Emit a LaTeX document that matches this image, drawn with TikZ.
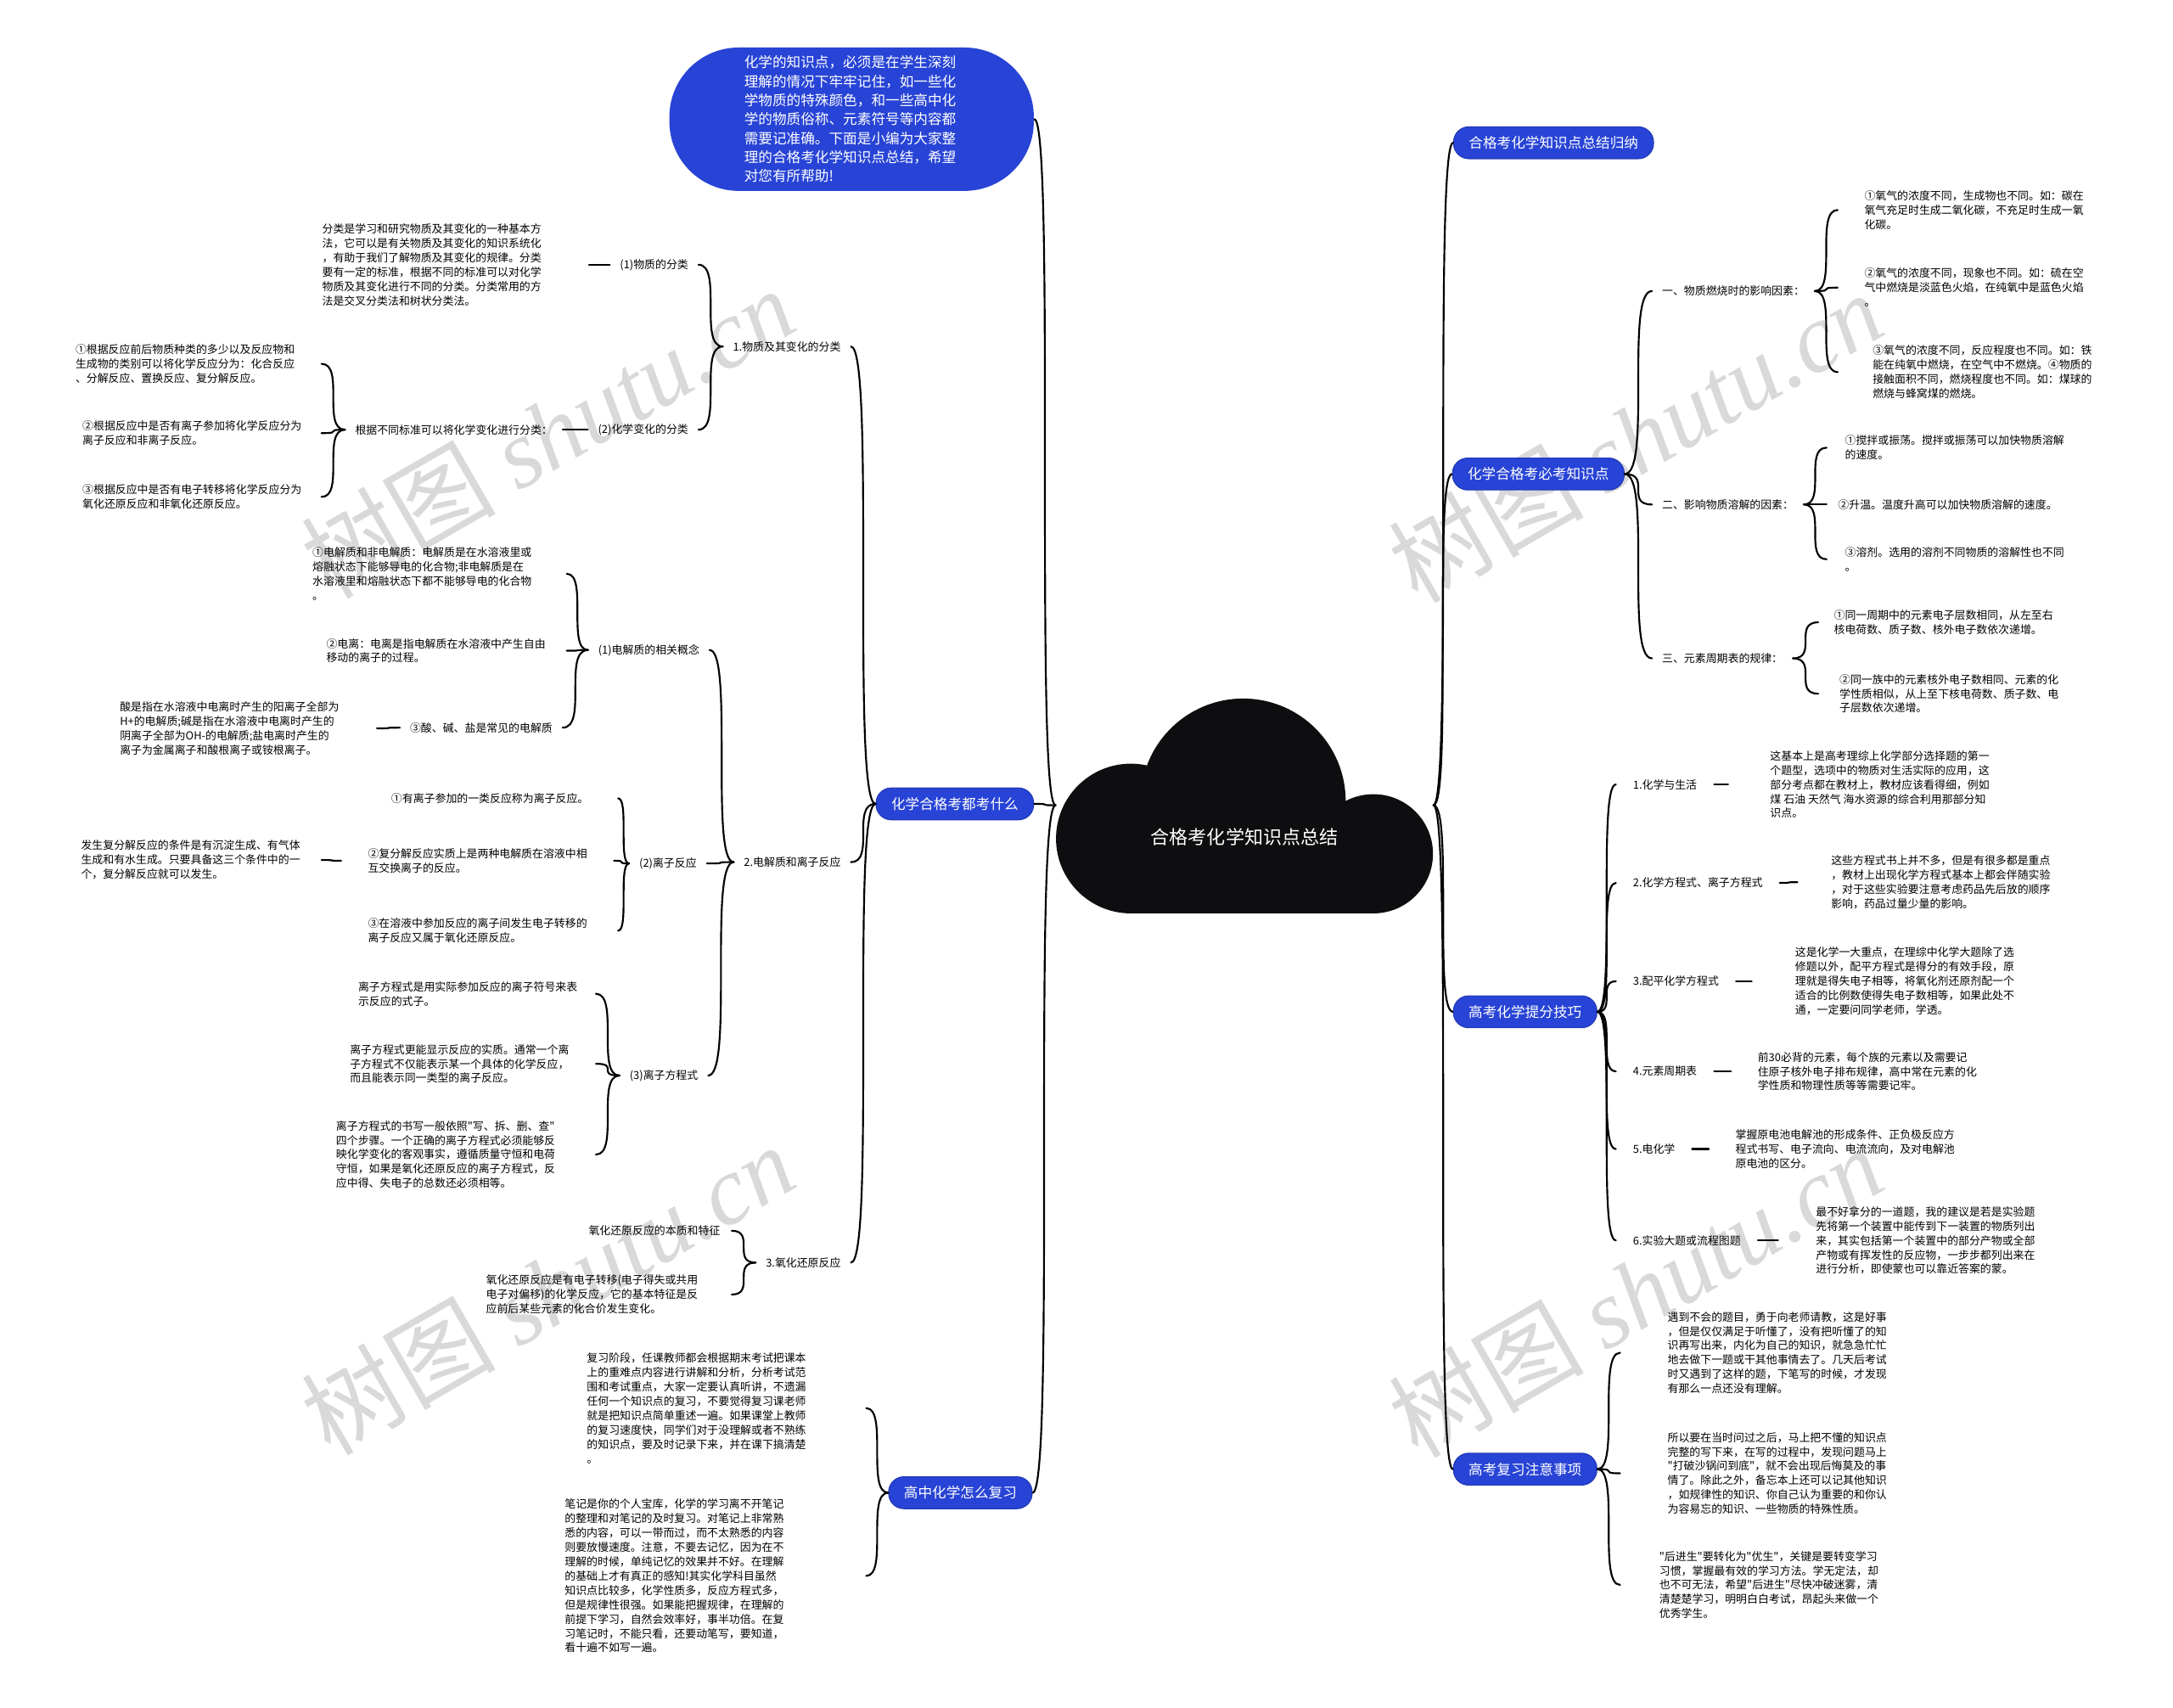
\documentclass[tikz,border=0pt]{standalone}
\usepackage{fontspec}
\setmainfont{Noto Sans CJK SC}[Ligatures=TeXOff]
\newfontfamily\wmserif{Liberation Serif}
\definecolor{topicblue}{RGB}{40,68,214}
\definecolor{cloudblack}{RGB}{14,14,16}
\newcommand\leaffont{\fontsize{4.5pt}{5.9pt}\selectfont}
\newcommand\pillfont{\fontsize{5.8pt}{7.8pt}\selectfont}
\newcommand\rootfont{\fontsize{7.7pt}{9pt}\selectfont}
\newcommand\wmfont{\fontsize{40pt}{40pt}\selectfont}
\tikzset{
  topic/.style={fill=topicblue,draw=topicblue!85!black,line width=0.4pt,text=white,font=\pillfont,
    rounded corners=0.22cm,minimum height=0.46cm,inner xsep=0.22cm,inner ysep=0pt},
  intro/.style={fill=topicblue,text=white,font=\pillfont,align=left,text width=3.1cm,
    rounded corners=1cm,minimum height=2.04cm,inner xsep=1.08cm},
  hub/.style={text=white,font=\rootfont,minimum width=5.44cm,minimum height=3.12cm,
    text height=1.12cm,text depth=0pt,inner sep=0pt},
  lbl/.style={font=\leaffont,inner xsep=0.14cm,inner ysep=1pt},
  leaf/.style={font=\leaffont,align=left,inner ysep=1pt},
  conn/.style={line width=0.75pt,line cap=round,
    to path={.. controls (\tikztotarget |- \tikztostart) and (\tikztostart |- \tikztotarget) .. (\tikztotarget)}},
  wmark/.style={text=black!15,rotate=30,font=\wmfont},
}
\begin{document}
\begin{tikzpicture}[x=0.02cm,y=-0.02cm]
  \fill[white] (0,0) rectangle (1568,1232);
  \useasboundingbox (0,0) rectangle (1568,1232);
  % watermarks
  \node[wmark] (wm1) at (395,312) {树图 {\wmserif\itshape shutu.cn}};
  \node[wmark] (wm2) at (1180,315) {树图 {\wmserif\itshape shutu.cn}};
  \node[wmark] (wm3) at (395,930) {树图 {\wmserif\itshape shutu.cn}};
  \node[wmark] (wm4) at (1180,932) {树图 {\wmserif\itshape shutu.cn}};
  % the cloud
  \fill[cloudblack] (816,605) circle[radius=54] (897,578) circle[radius=74] (991,616) circle[radius=43];
  \fill[cloudblack] (816,600) rectangle (991,659);
  \node[hub] (root) at (898,581) {合格考化学知识点总结};
  % main topics
  \node[intro] (intro) at (614.5,86) {化学的知识点，必须是在学生深刻\\理解的情况下牢牢记住，如一些化\\学物质的特殊颜色，和一些高中化\\学的物质俗称、元素符号等内容都\\需要记准确。下面是小编为大家整\\理的合格考化学知识点总结，希望\\对您有所帮助!};
  \node[topic] (exam) at (689,580) {化学合格考都考什么};
  \node[topic] (review) at (693,1077) {高中化学怎么复习};
  \node[topic] (sum) at (1121,103) {合格考化学知识点总结归纳};
  \node[topic] (must) at (1110,342) {化学合格考必考知识点};
  \node[topic] (tips) at (1100.5,730) {高考化学提分技巧};
  \node[topic] (note) at (1100.5,1060) {高考复习注意事项};

  % left: 化学合格考都考什么
  \node[lbl,anchor=east] (e1) at (614,250) {1.物质及其变化的分类};
  \node[lbl,anchor=east] (e2) at (614,622) {2.电解质和离子反应};
  \node[lbl,anchor=east] (e3) at (614,911) {3.氧化还原反应};
  \node[lbl,anchor=east] (e11) at (504,191) {(1)物质的分类};
  \node[lbl,anchor=east] (e12) at (504,310) {(2)化学变化的分类};
  \node[leaf,anchor=east,inner xsep=0.68cm] (e11a) at (425,191) {分类是学习和研究物质及其变化的一种基本方\\法，它可以是有关物质及其变化的知识系统化\\，有助于我们了解物质及其变化的规律。分类\\要有一定的标准，根据不同的标准可以对化学\\物质及其变化进行不同的分类。分类常用的方\\法是交叉分类法和树状分类法。};
  \node[lbl,anchor=east] (e12a) at (406,310) {根据不同标准可以将化学变化进行分类：};
  \node[leaf,anchor=east,inner xsep=0.38cm] (e12a1) at (232,262.5) {①根据反应前后物质种类的多少以及反应物和\\生成物的类别可以将化学反应分为：化合反应\\、分解反应、置换反应、复分解反应。};
  \node[leaf,anchor=east,inner xsep=0.28cm] (e12a2) at (232,312.5) {②根据反应中是否有离子参加将化学反应分为\\离子反应和非离子反应。};
  \node[leaf,anchor=east,inner xsep=0.28cm] (e12a3) at (232,358.5) {③根据反应中是否有电子转移将化学反应分为\\氧化还原反应和非氧化还原反应。};

  \node[lbl,anchor=east] (e21) at (512,469) {(1)电解质的相关概念};
  \node[lbl,anchor=east] (e22) at (510,623) {(2)离子反应};
  \node[lbl,anchor=east] (e23) at (511,776) {(3)离子方程式};
  \node[leaf,anchor=east,inner xsep=0.5cm] (e21a) at (409,414) {①电解质和非电解质：电解质是在水溶液里或\\熔融状态下能够导电的化合物;非电解质是在\\水溶液里和熔融状态下都不能够导电的化合物\\。};
  \node[leaf,anchor=east,inner xsep=0.3cm] (e21b) at (409,469.5) {②电离：电离是指电解质在水溶液中产生自由\\移动的离子的过程。};
  \node[lbl,anchor=east] (e21c) at (406,525) {③酸、碱、盐是常见的电解质};
  \node[leaf,anchor=east,inner xsep=0.54cm] (e21c1) at (272,525.5) {酸是指在水溶液中电离时产生的阳离子全部为\\H+的电解质;碱是指在水溶液中电离时产生的\\阴离子全部为OH-的电解质;盐电离时产生的\\离子为金属离子和酸根离子或铵根离子。};
  \node[leaf,anchor=east,inner xsep=0.42cm] (e22a) at (446,576) {①有离子参加的一类反应称为离子反应。};
  \node[leaf,anchor=east,inner xsep=0.38cm] (e22b) at (443,621) {②复分解反应实质上是两种电解质在溶液中相\\互交换离子的反应。};
  \node[leaf,anchor=east,inner xsep=0.3cm] (e22b1) at (232,620.5) {发生复分解反应的条件是有沉淀生成、有气体\\生成和有水生成。只要具备这三个条件中的一\\个，复分解反应就可以发生。};
  \node[leaf,anchor=east,inner xsep=0.44cm] (e22c) at (446,671.5) {③在溶液中参加反应的离子间发生电子转移的\\离子反应又属于氧化还原反应。};
  \node[leaf,anchor=east,inner xsep=0.26cm] (e23a) at (430,717) {离子方程式是用实际参加反应的离子符号来表\\示反应的式子。};
  \node[leaf,anchor=east,inner xsep=0.38cm] (e23b) at (430,767.5) {离子方程式更能显示反应的实质。通常一个离\\子方程式不仅能表示某一个具体的化学反应，\\而且能表示同一类型的离子反应。};
  \node[leaf,anchor=east,inner xsep=0.58cm] (e23c) at (430,833) {离子方程式的书写一般依照"写、拆、删、查"\\四个步骤。一个正确的离子方程式必须能够反\\映化学变化的客观事实，遵循质量守恒和电荷\\守恒，如果是氧化还原反应的离子方程式，反\\应中得、失电子的总数还必须相等。};
  \node[leaf,anchor=east,inner xsep=0.16cm] (e31) at (528,888) {氧化还原反应的本质和特征};
  \node[leaf,anchor=east,inner xsep=0.48cm] (e32) at (528,934) {氧化还原反应是有电子转移(电子得失或共用\\电子对偏移)的化学反应，它的基本特征是反\\应前后某些元素的化合价发生变化。};

  % left: 高中化学怎么复习
  \node[leaf,anchor=east,inner xsep=0.86cm] (r1) at (625,1016) {复习阶段，任课教师都会根据期末考试把课本\\上的重难点内容进行讲解和分析，分析考试范\\围和考试重点，大家一定要认真听讲，不遗漏\\任何一个知识点的复习，不要觉得复习课老师\\就是把知识点简单重述一遍。如果课堂上教师\\的复习速度快，同学们对于没理解或者不熟练\\的知识点，要及时记录下来，并在课下搞清楚\\。};
  \node[leaf,anchor=east,inner xsep=1.18cm] (r2) at (625,1137) {笔记是你的个人宝库，化学的学习离不开笔记\\的整理和对笔记的及时复习。对笔记上非常熟\\悉的内容，可以一带而过，而不太熟悉的内容\\则要放慢速度。注意，不要去记忆，因为在不\\理解的时候，单纯记忆的效果并不好。在理解\\的基础上才有真正的感知!其实化学科目虽然\\知识点比较多，化学性质多，反应方程式多，\\但是规律性很强。如果能把握规律，在理解的\\前提下学习，自然会效率好，事半功倍。在复\\习笔记时，不能只看，还要动笔写，要知道，\\看十遍不如写一遍。};

  % right: 化学合格考必考知识点
  \node[lbl,anchor=west] (m1) at (1192,210) {一、物质燃烧时的影响因素：};
  \node[lbl,anchor=west] (m2) at (1192,364) {二、影响物质溶解的因素：};
  \node[lbl,anchor=west] (m3) at (1192,475) {三、元素周期表的规律：};
  \node[leaf,anchor=west,inner xsep=0.38cm] (m1a) at (1326,151.5) {①氧气的浓度不同，生成物也不同。如：碳在\\氧气充足时生成二氧化碳，不充足时生成一氧\\化碳。};
  \node[leaf,anchor=west,inner xsep=0.38cm] (m1b) at (1326,207.5) {②氧气的浓度不同，现象也不同。如：硫在空\\气中燃烧是淡蓝色火焰，在纯氧中是蓝色火焰\\。};
  \node[leaf,anchor=west,inner xsep=0.5cm] (m1c) at (1326,268.5) {③氧气的浓度不同，反应程度也不同。如：铁\\能在纯氧中燃烧，在空气中不燃烧。④物质的\\接触面积不同，燃烧程度也不同。如：煤球的\\燃烧与蜂窝煤的燃烧。};
  \node[leaf,anchor=west,inner xsep=0.26cm] (m2a) at (1318,323) {①搅拌或振荡。搅拌或振荡可以加快物质溶解\\的速度。};
  \node[leaf,anchor=west,inner xsep=0.16cm] (m2b) at (1318,364) {②升温。温度升高可以加快物质溶解的速度。};
  \node[leaf,anchor=west,inner xsep=0.26cm] (m2c) at (1318,403.5) {③溶剂。选用的溶剂不同物质的溶解性也不同\\。};
  \node[leaf,anchor=west,inner xsep=0.22cm] (m3a) at (1312,449) {①同一周期中的元素电子层数相同，从左至右\\核电荷数、质子数、核外电子数依次递增。};
  \node[leaf,anchor=west,inner xsep=0.3cm] (m3b) at (1312,500.5) {②同一族中的元素核外电子数相同、元素的化\\学性质相似，从上至下核电荷数、质子数、电\\子层数依次递增。};

  % right: 高考化学提分技巧
  \node[lbl,anchor=west,inner xsep=0.24cm] (t1) at (1166,566) {1.化学与生活};
  \node[lbl,anchor=west,inner xsep=0.24cm] (t2) at (1166,637) {2.化学方程式、离子方程式};
  \node[lbl,anchor=west,inner xsep=0.24cm] (t3) at (1166,708) {3.配平化学方程式};
  \node[lbl,anchor=west,inner xsep=0.24cm] (t4) at (1166,773) {4.元素周期表};
  \node[lbl,anchor=west,inner xsep=0.24cm] (t5) at (1166,829) {5.电化学};
  \node[lbl,anchor=west,inner xsep=0.24cm] (t6) at (1166,895) {6.实验大题或流程图题};
  \node[leaf,anchor=west,inner xsep=0.6cm] (t1x) at (1247,566) {这基本上是高考理综上化学部分选择题的第一\\个题型，选项中的物质对生活实际的应用，这\\部分考点都在教材上，教材应该看得细，例如\\煤 石油 天然气 海水资源的综合利用那部分知\\识点。};
  \node[leaf,anchor=west,inner xsep=0.48cm] (t2x) at (1297,636.5) {这些方程式书上并不多，但是有很多都是重点\\，教材上出现化学方程式基本上都会伴随实验\\，对于这些实验要注意考虑药品先后放的顺序\\影响，药品过量少量的影响。};
  \node[leaf,anchor=west,inner xsep=0.62cm] (t3x) at (1264,708) {这是化学一大重点，在理综中化学大题除了选\\修题以外，配平方程式是得分的有效手段，原\\理就是得失电子相等，将氧化剂还原剂配一个\\适合的比例数使得失电子数相等，如果此处不\\通，一定要问同学老师，学透。};
  \node[leaf,anchor=west,inner xsep=0.38cm] (t4x) at (1249,773) {前30必背的元素，每个族的元素以及需要记\\住原子核外电子排布规律，高中常在元素的化\\学性质和物理性质等等需要记牢。};
  \node[leaf,anchor=west,inner xsep=0.38cm] (t5x) at (1233,829) {掌握原电池电解池的形成条件、正负极反应方\\程式书写、电子流向、电流流向，及对电解池\\原电池的区分。};
  \node[leaf,anchor=west,inner xsep=0.54cm] (t6x) at (1283,895) {最不好拿分的一道题，我的建议是若是实验题\\先将第一个装置中能传到下一装置的物质列出\\来，其实包括第一个装置中的部分产物或全部\\产物或有挥发性的反应物，一步步都列出来在\\进行分析，即使蒙也可以靠近答案的蒙。};

  % right: 高考复习注意事项
  \node[leaf,anchor=west,inner xsep=0.68cm] (p1) at (1169,976) {遇到不会的题目，勇于向老师请教，这是好事\\，但是仅仅满足于听懂了，没有把听懂了的知\\识再写出来，内化为自己的知识，就急急忙忙\\地去做下一题或干其他事情去了。几天后考试\\时又遇到了这样的题，下笔写的时候，才发现\\有那么一点还没有理解。};
  \node[leaf,anchor=west,inner xsep=0.68cm] (p2) at (1169,1063) {所以要在当时问过之后，马上把不懂的知识点\\完整的写下来，在写的过程中，发现问题马上\\"打破沙锅问到底"，就不会出现后悔莫及的事\\情了。除此之外，备忘本上还可以记其他知识\\，如规律性的知识、你自己认为重要的和你认\\为容易忘的知识、一些物质的特殊性质。};
  \node[leaf,anchor=west,inner xsep=0.56cm] (p3) at (1169,1143.5) {"后进生"要转化为"优生"，关键是要转变学习\\习惯，掌握最有效的学习方法。学无定法，却\\也不可无法，希望"后进生"尽快冲破迷雾，清\\清楚楚学习，明明白白考试，昂起头来做一个\\优秀学生。};

  % connectors from the centre
  \draw[conn] (root.west) to (intro.east);
  \draw[conn] (root.west) to (exam.east);
  \draw[conn] (root.west) to (review.east);
  \draw[conn] (root.east) to (sum.west);
  \draw[conn] (root.east) to (must.west);
  \draw[conn] (root.east) to (tips.west);
  \draw[conn] (root.east) to (note.west);
  % left branches
  \draw[conn] (exam.west) to (e1.east);
  \draw[conn] (exam.west) to (e2.east);
  \draw[conn] (exam.west) to (e3.east);
  \draw[conn] (e1.west) to (e11.east);
  \draw[conn] (e1.west) to (e12.east);
  \draw[conn] (e11.west) to (e11a.east);
  \draw[conn] (e12.west) to (e12a.east);
  \draw[conn] (e12a.west) to (e12a1.east);
  \draw[conn] (e12a.west) to (e12a2.east);
  \draw[conn] (e12a.west) to (e12a3.east);
  \draw[conn] (e2.west) to (e21.east);
  \draw[conn] (e2.west) to (e22.east);
  \draw[conn] (e2.west) to (e23.east);
  \draw[conn] (e21.west) to (e21a.east);
  \draw[conn] (e21.west) to (e21b.east);
  \draw[conn] (e21.west) to (e21c.east);
  \draw[conn] (e21c.west) to (e21c1.east);
  \draw[conn] (e22.west) to (e22a.east);
  \draw[conn] (e22.west) to (e22b.east);
  \draw[conn] (e22.west) to (e22c.east);
  \draw[conn] (e22b.west) to (e22b1.east);
  \draw[conn] (e23.west) to (e23a.east);
  \draw[conn] (e23.west) to (e23b.east);
  \draw[conn] (e23.west) to (e23c.east);
  \draw[conn] (e3.west) to (e31.east);
  \draw[conn] (e3.west) to (e32.east);
  \draw[conn] (review.west) to (r1.east);
  \draw[conn] (review.west) to (r2.east);
  % right branches
  \draw[conn] (must.east) to (m1.west);
  \draw[conn] (must.east) to (m2.west);
  \draw[conn] (must.east) to (m3.west);
  \draw[conn] (m1.east) to (m1a.west);
  \draw[conn] (m1.east) to (m1b.west);
  \draw[conn] (m1.east) to (m1c.west);
  \draw[conn] (m2.east) to (m2a.west);
  \draw[conn] (m2.east) to (m2b.west);
  \draw[conn] (m2.east) to (m2c.west);
  \draw[conn] (m3.east) to (m3a.west);
  \draw[conn] (m3.east) to (m3b.west);
  \draw[conn] (tips.east) to (t1.west);
  \draw[conn] (tips.east) to (t2.west);
  \draw[conn] (tips.east) to (t3.west);
  \draw[conn] (tips.east) to (t4.west);
  \draw[conn] (tips.east) to (t5.west);
  \draw[conn] (tips.east) to (t6.west);
  \draw[conn] (t1.east) to (t1x.west);
  \draw[conn] (t2.east) to (t2x.west);
  \draw[conn] (t3.east) to (t3x.west);
  \draw[conn] (t4.east) to (t4x.west);
  \draw[conn] (t5.east) to (t5x.west);
  \draw[conn] (t6.east) to (t6x.west);
  \draw[conn] (note.east) to (p1.west);
  \draw[conn] (note.east) to (p2.west);
  \draw[conn] (note.east) to (p3.west);
\end{tikzpicture}
\end{document}
